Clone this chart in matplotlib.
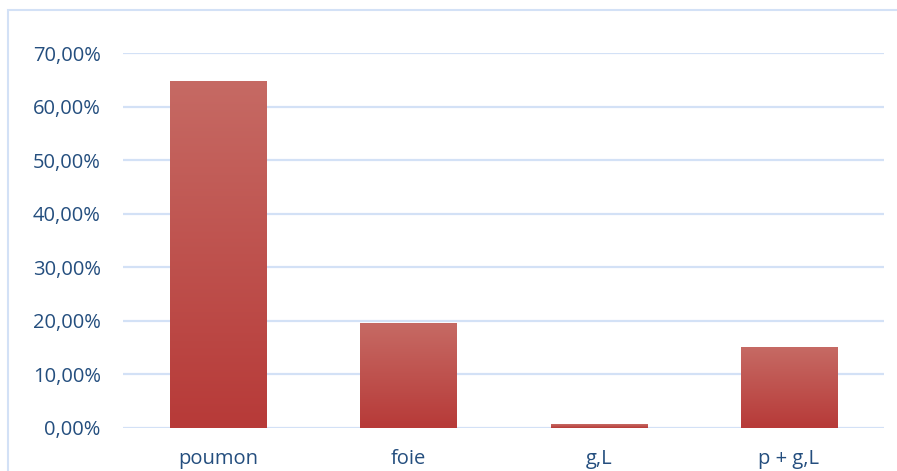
import numpy as np
import matplotlib
matplotlib.use("Agg")
import matplotlib.pyplot as plt
from matplotlib.colors import LinearSegmentedColormap
from matplotlib.patches import Rectangle
from matplotlib.ticker import FuncFormatter

categories = ["poumon", "foie", "g,L", "p + g,L"]
values = [0.648, 0.196, 0.007, 0.151]

text_color = "#244E7E"
grid_color = "#D3E1F6"

plt.rcParams['font.family'] = ['Open Sans', 'DejaVu Sans']

fig = plt.figure(figsize=(8.97, 4.71), dpi=100)
ax = fig.add_axes([123 / 897, 43 / 471, 761 / 897, 375 / 471])

x = np.arange(len(categories))
bars = ax.bar(x, values, width=0.505, color="#BF4F4B", zorder=2)

# degrade vertical, clair en haut, fonce en bas
cmap = LinearSegmentedColormap.from_list("grad", ["#B73A38", "#C66A64"])
grad = np.linspace(0, 1, 256).reshape(-1, 1)
for b in bars:
    im = ax.imshow(grad, cmap=cmap, aspect="auto", origin="lower",
                   extent=[b.get_x(), b.get_x() + b.get_width(), 0, b.get_height()],
                   zorder=3)
    im.set_clip_path(b)

ax.set_xlim(-0.5, len(categories) - 0.5)
ax.set_ylim(0, 0.7)
ax.set_yticks(np.arange(0, 0.71, 0.1))
ax.yaxis.set_major_formatter(FuncFormatter(lambda v, p: f"{v * 100:.2f}%".replace(".", ",")))
ax.set_xticks(x)
ax.set_xticklabels(categories)

ax.grid(axis="y", color=grid_color, linewidth=1.6, zorder=0)
for s in ax.spines.values():
    s.set_visible(False)
ax.tick_params(length=0, colors=text_color, labelsize=14.5)
ax.tick_params(axis="y", pad=16)
ax.tick_params(axis="x", pad=15)

# bordure du graphique
fig.patches.append(Rectangle((8 / 897, -0.1), 1.0, (471 - 10) / 471 + 0.1,
                             transform=fig.transFigure, fill=False,
                             edgecolor=grid_color, linewidth=1.5))

fig.savefig("out.png", dpi=100)
